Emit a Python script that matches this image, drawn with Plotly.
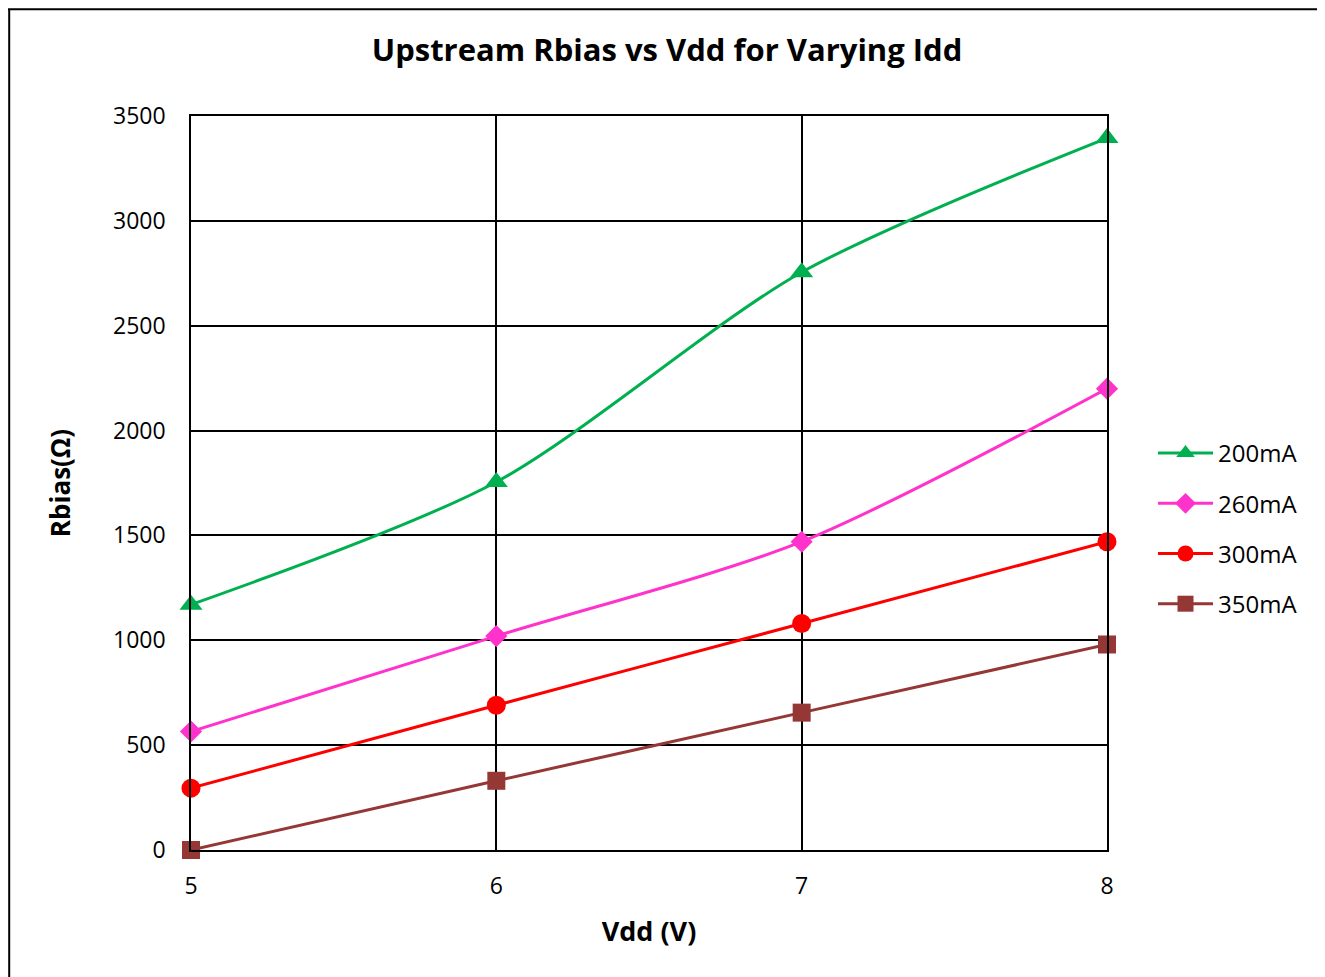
import plotly.graph_objects as go

vdd = [5, 6, 7, 8]
names = ["200mA", "260mA", "300mA", "350mA"]
r200 = [1170, 1755, 2755, 3395]
r260 = [565, 1020, 1470, 2200]
r300 = [295, 690, 1080, 1470]
r350 = [0, 330, 655, 980]

series = [r200, r260, r300, r350]
colors = ["#00B050", "#FF33CC", "#FF0000", "#953735"]
symbols = ["triangle-up", "diamond", "circle", "square"]
sizes = [20, 17, 19, 18]

fig = go.Figure()
for n, s, c, sym, sz in zip(names, series, colors, symbols, sizes):
    fig.add_trace(go.Scatter(
        x=vdd, y=s, name=n, legendgroup=n, mode="lines+markers",
        line=dict(color=c, width=3, shape="spline", smoothing=0.8),
        marker=dict(symbol=sym, size=sz, color=c),
        cliponaxis=False,
    ))

FONT = "Open Sans, Liberation Sans, sans-serif"
OFF = 8  # page body offset
L, T = 191 - OFF, 116 - OFF
pw, ph = 916, 734
W, H = 1325 - OFF, 977 - OFF
R, B = W - L - pw, H - T - ph

def px(xp):
    return (xp - OFF - L) / pw

def py(yp):
    return (T + ph - (yp - OFF)) / ph

fig.update_layout(
    width=W, height=H,
    margin=dict(l=L, r=R, t=T, b=B),
    paper_bgcolor="white", plot_bgcolor="white",
    font=dict(family=FONT, size=23, color="black"),
    title=dict(text="<b>Upstream Rbias vs Vdd for Varying Idd</b>", x=(667 - OFF) / W, xanchor="center",
               y=1 - (50 - OFF) / H, yanchor="middle", font=dict(size=31)),
    showlegend=True,
    legend=dict(x=px(1153), xanchor="left", y=py(431), yanchor="top",
                font=dict(size=24), bgcolor="rgba(0,0,0,0)", itemwidth=55,
                tracegroupgap=16),
    shapes=[
        dict(type="line", xref="paper", yref="paper",
             x0=-L / pw + 1.2 / pw, x1=-L / pw + 1.2 / pw, y0=py(1000), y1=1 + (T - 1) / ph,
             line=dict(color="black", width=2), layer="below"),
        dict(type="line", xref="paper", yref="paper",
             x0=-L / pw, x1=(W - L) / pw, y0=1 + (T - 1.2) / ph, y1=1 + (T - 1.2) / ph,
             line=dict(color="black", width=2), layer="below"),
    ],
)
fig.update_xaxes(
    range=[5, 8], tickvals=vdd, ticktext=[str(v) for v in vdd],
    showgrid=True, gridcolor="black", gridwidth=1.5,
    showline=True, linecolor="black", linewidth=1.5, mirror=True,
    zeroline=False, ticks="", ticklabelstandoff=15,
    title=dict(text="<b>Vdd (V)</b>", font=dict(size=27), standoff=22),
)
fig.update_yaxes(
    range=[0, 3500], tickvals=[0, 500, 1000, 1500, 2000, 2500, 3000, 3500],
    showgrid=True, gridcolor="black", gridwidth=1.5,
    showline=True, linecolor="black", linewidth=1.5, mirror=True,
    zeroline=False, ticks="", ticklabelstandoff=19,
    title=dict(text="<b>Rbias(Ω)</b>", font=dict(size=26), standoff=35),
)
fig.write_html("out.html")
